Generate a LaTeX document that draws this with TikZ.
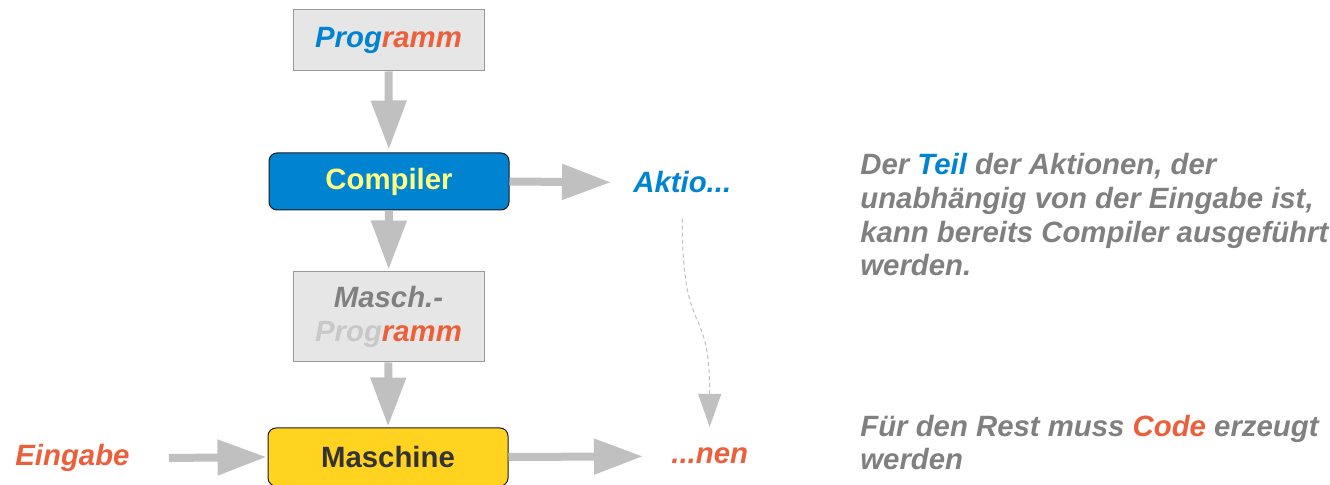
\documentclass[tikz,border=0pt]{standalone}
\usepackage{fontspec}
\setmainfont{Liberation Sans}
\usetikzlibrary{arrows.meta, positioning}

\definecolor{lobblue}{HTML}{0084D1}
\definecolor{loborange}{RGB}{235,96,58}
\definecolor{lobyellow}{HTML}{FFD320}
\definecolor{compyellow}{HTML}{FFFF80}
\definecolor{notegray}{HTML}{808080}
\definecolor{proggray}{HTML}{C8C8C8}
\definecolor{boxfill}{HTML}{E6E6E6}
\definecolor{boxline}{HTML}{999999}
\definecolor{arrowgray}{HTML}{C0C0C0}
\definecolor{textdark}{HTML}{333333}

\newcommand{\bigfont}{\fontsize{16.7}{19.3}\selectfont}

\tikzstyle{progbox} = [rectangle, minimum width=3.82cm, draw=boxline, fill=boxfill, line width=0.02cm, align=center, font=\bigfont\bfseries\itshape]
\tikzstyle{runbox} = [rectangle, rounded corners=0.16cm, minimum width=4.8cm, minimum height=1.14cm, draw=black!90, line width=0.02cm, font=\bigfont\bfseries]
\tikzstyle{word} = [inner sep=0pt, font=\bigfont\bfseries\itshape]
\tikzstyle{note} = [word, align=left, text=notegray]
\tikzstyle{arrow} = [line width=0.16cm, draw=arrowgray, -{Triangle[length=0.98cm, width=0.68cm]}]
\tikzstyle{hint} = [line width=0.02cm, draw=arrowgray, dash pattern=on 0.08cm off 0.06cm, -{Triangle[length=0.66cm, width=0.46cm]}]

\begin{document}
\begin{tikzpicture}
    \useasboundingbox (0,0) rectangle (26.6,9.7);

    % main column
    \node (prog) [progbox, minimum height=1.22cm] at (7.77,8.89) {\textcolor{lobblue}{Prog}\textcolor{loborange}{ramm}};
    \node (comp) [runbox, fill=lobblue, text=compyellow] at (7.78,6.07) {Compiler};
    \node (masch) [progbox, minimum height=1.8cm] at (7.77,3.36) {\textcolor{notegray}{Masch.-}\\\textcolor{proggray}{Prog}\textcolor{loborange}{ramm}};
    \node (machine) [runbox, fill=lobyellow, text=textdark, minimum height=1.16cm] at (7.76,0.56) {Maschine};

    % side words
    \node (input) [word, text=loborange, anchor=base west] at (0.30,0.38) {Eingabe};
    \node (aktio) [word, text=lobblue, anchor=base west] at (12.66,5.84) {Aktio...};
    \node (nen) [word, text=loborange, anchor=base west] at (13.42,0.42) {...nen};

    % notes (base = last line)
    \node (note1) [note, anchor=base west] at (17.2,4.18) {Der \textcolor{lobblue}{Teil} der Aktionen, der\\unabhängig von der Eingabe ist,\\kann bereits Compiler ausgeführt\\werden.};
    \node (note2) [note, anchor=base west] at (17.2,0.30) {Für den Rest muss \textcolor{loborange}{Code} erzeugt\\werden};

    \draw [arrow, shorten >=0.06cm] (prog) -- (comp);
    \draw [arrow, shorten >=0.04cm] (comp) -- (masch);
    \draw [arrow, shorten >=0.02cm] (masch) -- (machine);
    \draw [arrow, shorten >=0.44cm] (comp.east) -- (aktio.west);
    \draw [arrow, shorten <=0.78cm, shorten >=0.02cm] (input.east) -- (machine.west);
    \draw [arrow, shorten >=0.56cm] (machine.east) -- (nen.west);
    \draw [hint, shorten <=0.5cm, shorten >=0.42cm] (aktio.south) .. controls +(0,-3) and +(0,3) .. (nen.north);

\end{tikzpicture}
\end{document}
